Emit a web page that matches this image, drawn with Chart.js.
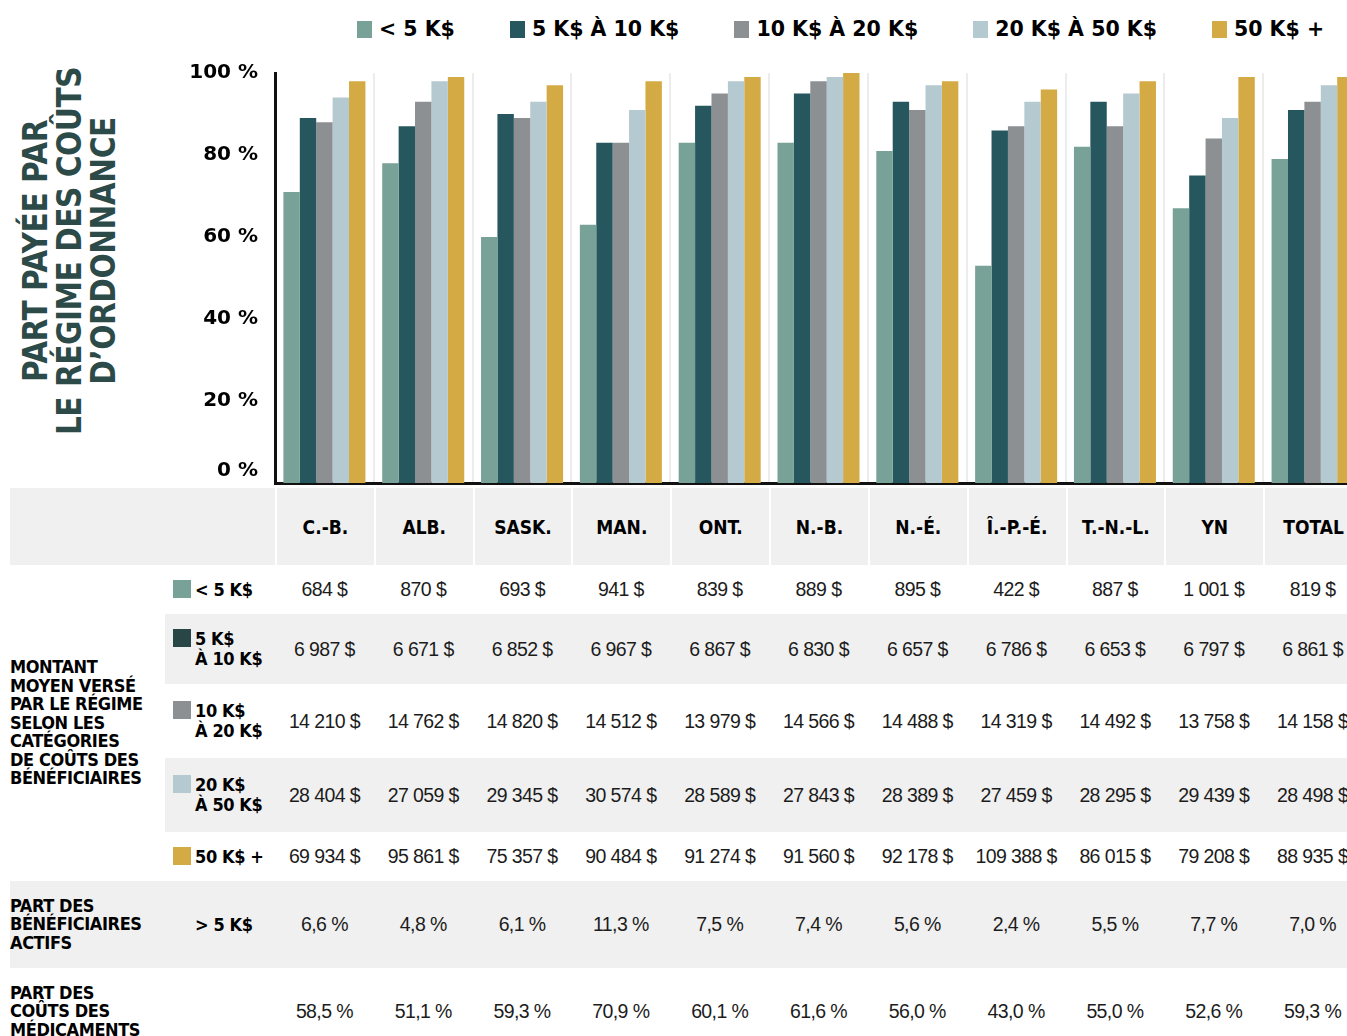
<!DOCTYPE html>
<html lang="fr">
<head>
<meta charset="utf-8">
<script src="https://cdn.jsdelivr.net/npm/chart.js@4.4.1/dist/chart.umd.min.js"></script>
<style>
  body { margin: 0; background: #fff; width: 1347px; height: 1036px; overflow: hidden; position: relative; }
  #chartBox { position: absolute; left: 0; top: 0; width: 1362px; height: 488px; }
  #yTitle {
    position: absolute; left: -130px; top: 200px; width: 400px; height: 102px;
    transform: rotate(-90deg); transform-origin: center;
    font-family: 'DejaVu Sans Condensed', 'DejaVu Sans', sans-serif; font-weight: bold;
    font-size: 33px; line-height: 34px; letter-spacing: -0.5px; color: #2c4a48; text-align: center;
  }
  #legend {
    position: absolute; left: 357px; top: 17px; display: flex; gap: 55px;
    font-family: 'DejaVu Sans', sans-serif; font-weight: bold; font-size: 20.5px; color: #000;
  }
  #legend .item { display: flex; align-items: center; gap: 7px; white-space: nowrap; }
  #legend .sw { width: 15px; height: 17px; display: inline-block; }
  table {
    position: absolute; left: 10px; top: 488px; width: 1352px;
    table-layout: fixed; border-collapse: separate; border-spacing: 0;
  }
  th {
    background: #f0f0f0; height: 77px; padding: 0;
    font-family: 'DejaVu Sans Condensed', 'DejaVu Sans', sans-serif; font-weight: bold; font-size: 19px; color: #000;
  }
  th.prov { border-left: 2px solid #fff; }
  td { padding: 0; }
  td.val {
    text-align: center; font-family: 'Liberation Sans Narrow', 'Liberation Sans', sans-serif;
    font-size: 19.5px; letter-spacing: -0.6px; color: #1c1c1c; white-space: nowrap;
  }
  td.big, td.lab {
    font-family: 'DejaVu Sans Condensed', 'DejaVu Sans', sans-serif; font-weight: bold; font-size: 18px;
    letter-spacing: -0.4px; line-height: 18.5px; color: #000; vertical-align: middle;
  }
  td.lab { line-height: 20px; }
  td.lab .wrap { display: flex; align-items: flex-start; padding-left: 8px; }
  td.lab .sw { width: 18px; height: 18px; margin-right: 4px; flex: none; }
  td.lab.nosw { padding-left: 30px; }
  tr.gray td { background: #f0f0f0; }
  tr.gray td.big { background: #fff; }
  tr.grayall td { background: #f0f0f0; }
</style>
</head>
<body>
<div id="legend"></div>
<div id="yTitle">PART PAYÉE PAR<br>LE RÉGIME DES COÛTS<br>D’ORDONNANCE</div>
<div id="chartBox"><canvas id="chart"></canvas></div>
<table id="dataTable"></table>
<script>
// categories
const provinces = ['C.-B.', 'ALB.', 'SASK.', 'MAN.', 'ONT.', 'N.-B.', 'N.-É.', 'Î.-P.-É.', 'T.-N.-L.', 'YN', 'TOTAL'];
const seriesNames = ['< 5 K$', '5 K$ À 10 K$', '10 K$ À 20 K$', '20 K$ À 50 K$', '50 K$ +'];

// share paid by the plan (%)
const paidLt5 = [71, 78, 60, 63, 83, 83, 81, 53, 82, 67, 79];
const paid5to10 = [89, 87, 90, 83, 92, 95, 93, 86, 93, 75, 91];
const paid10to20 = [88, 93, 89, 83, 95, 98, 91, 87, 87, 84, 93];
const paid20to50 = [94, 98, 93, 91, 98, 99, 97, 93, 95, 89, 97];
const paid50plus = [98, 99, 97, 98, 99, 100, 98, 96, 98, 99, 99];

// average amount paid ($)
const avgLt5 = [684, 870, 693, 941, 839, 889, 895, 422, 887, 1001, 819];
const avg5to10 = [6987, 6671, 6852, 6967, 6867, 6830, 6657, 6786, 6653, 6797, 6861];
const avg10to20 = [14210, 14762, 14820, 14512, 13979, 14566, 14488, 14319, 14492, 13758, 14158];
const avg20to50 = [28404, 27059, 29345, 30574, 28589, 27843, 28389, 27459, 28295, 29439, 28498];
const avg50plus = [69934, 95861, 75357, 90484, 91274, 91560, 92178, 109388, 86015, 79208, 88935];

// share of active beneficiaries > 5 K$ and share of drug costs (%)
const shareActive = [6.6, 4.8, 6.1, 11.3, 7.5, 7.4, 5.6, 2.4, 5.5, 7.7, 7.0];
const shareCosts = [58.5, 51.1, 59.3, 70.9, 60.1, 61.6, 56.0, 43.0, 55.0, 52.6, 59.3];

const yTicks = [0, 20, 40, 60, 80, 100];

const seriesColors = ['#78a198', '#26575f', '#8d9093', '#b5c9d0', '#d4aa44'];
const tableSwatches = ['#78a198', '#284646', '#8d9093', '#b5c9d0', '#d4aa44'];

const paid = [paidLt5, paid5to10, paid10to20, paid20to50, paid50plus];
const amounts = [avgLt5, avg5to10, avg10to20, avg20to50, avg50plus];

const money = v => String(v).replace(/\B(?=(\d{3})+(?!\d))/g, '\u00a0') + '\u00a0$';
const pct = v => v.toFixed(1).replace('.', ',') + '\u00a0%';

// legend
document.getElementById('legend').innerHTML = seriesNames.map((name, i) =>
    `<span class="item"><span class="sw" style="background:${seriesColors[i]}"></span>${name.replace(/</g, '&lt;')}</span>`
).join('');

// chart
new Chart(document.getElementById('chart'), {
    type: 'bar',
    data: {
        labels: provinces,
        datasets: seriesNames.map((name, i) => ({
            label: name,
            data: paid[i],
            backgroundColor: seriesColors[i],
            borderWidth: 0,
            categoryPercentage: 0.83,
            barPercentage: 1.0
        }))
    },
    options: {
        responsive: true,
        maintainAspectRatio: false,
        animation: false,
        layout: { padding: { top: 73, right: 0, bottom: 5, left: 0 } },
        plugins: {
            legend: { display: false },
            tooltip: { enabled: false }
        },
        scales: {
            x: {
                grid: { color: '#ececec', lineWidth: 2, drawTicks: false },
                border: { color: '#111', width: 3 },
                ticks: { display: false }
            },
            y: {
                min: 0,
                max: 100,
                afterBuildTicks: s => { s.ticks = yTicks.map(v => ({ value: v })); },
                afterFit: s => {
                    s.width = 275;
                    // labels may overhang; keep the plot area where the original has it
                    s.paddingTop = 0;
                    s.paddingBottom = 0;
                },
                grid: { display: false },
                border: { color: '#111', width: 3 },
                ticks: {
                    padding: 9,
                    color: '#000',
                    font: { family: 'DejaVu Sans', weight: 'bold', size: 20 },
                    // lift the 0 % label off the baseline like the original
                    callback: v => v === 0 ? ['0 %', ''] : v + ' %'
                }
            }
        }
    }
});

// table under the chart
const rowHeights = [49, 70, 74, 74, 49];
let html = '<colgroup><col style="width:155px"><col style="width:110px">' +
    provinces.map(() => '<col style="width:98.8px">').join('') + '</colgroup>';
html += '<tr><th colspan="2"></th>' + provinces.map(p => `<th class="prov">${p}</th>`).join('') + '</tr>';
amounts.forEach((row, i) => {
    html += `<tr class="${i % 2 ? 'gray' : ''}" style="height:${rowHeights[i]}px">`;
    if (i === 0) {
        html += '<td rowspan="5" class="big">MONTANT<br>MOYEN VERSÉ<br>PAR LE RÉGIME<br>SELON LES<br>CATÉGORIES<br>DE COÛTS DES<br>BÉNÉFICIAIRES</td>';
    }
    html += `<td class="lab"><div class="wrap"><span class="sw" style="background:${tableSwatches[i]}"></span>` +
        `<span>${seriesNames[i].replace(/</g, '&lt;').replace(' À ', '<br>À ')}</span></div></td>`;
    html += row.map(v => `<td class="val">${money(v)}</td>`).join('') + '</tr>';
});
html += '<tr class="grayall" style="height:87px"><td class="big">PART DES<br>BÉNÉFICIAIRES<br>ACTIFS</td>' +
    '<td class="lab nosw">&gt; 5 K$</td>' + shareActive.map(v => `<td class="val">${pct(v)}</td>`).join('') + '</tr>';
html += '<tr style="height:87px"><td class="big">PART DES<br>COÛTS DES<br>MÉDICAMENTS</td><td></td>' +
    shareCosts.map(v => `<td class="val">${pct(v)}</td>`).join('') + '</tr>';
document.getElementById('dataTable').innerHTML = html;
</script>
</body>
</html>
